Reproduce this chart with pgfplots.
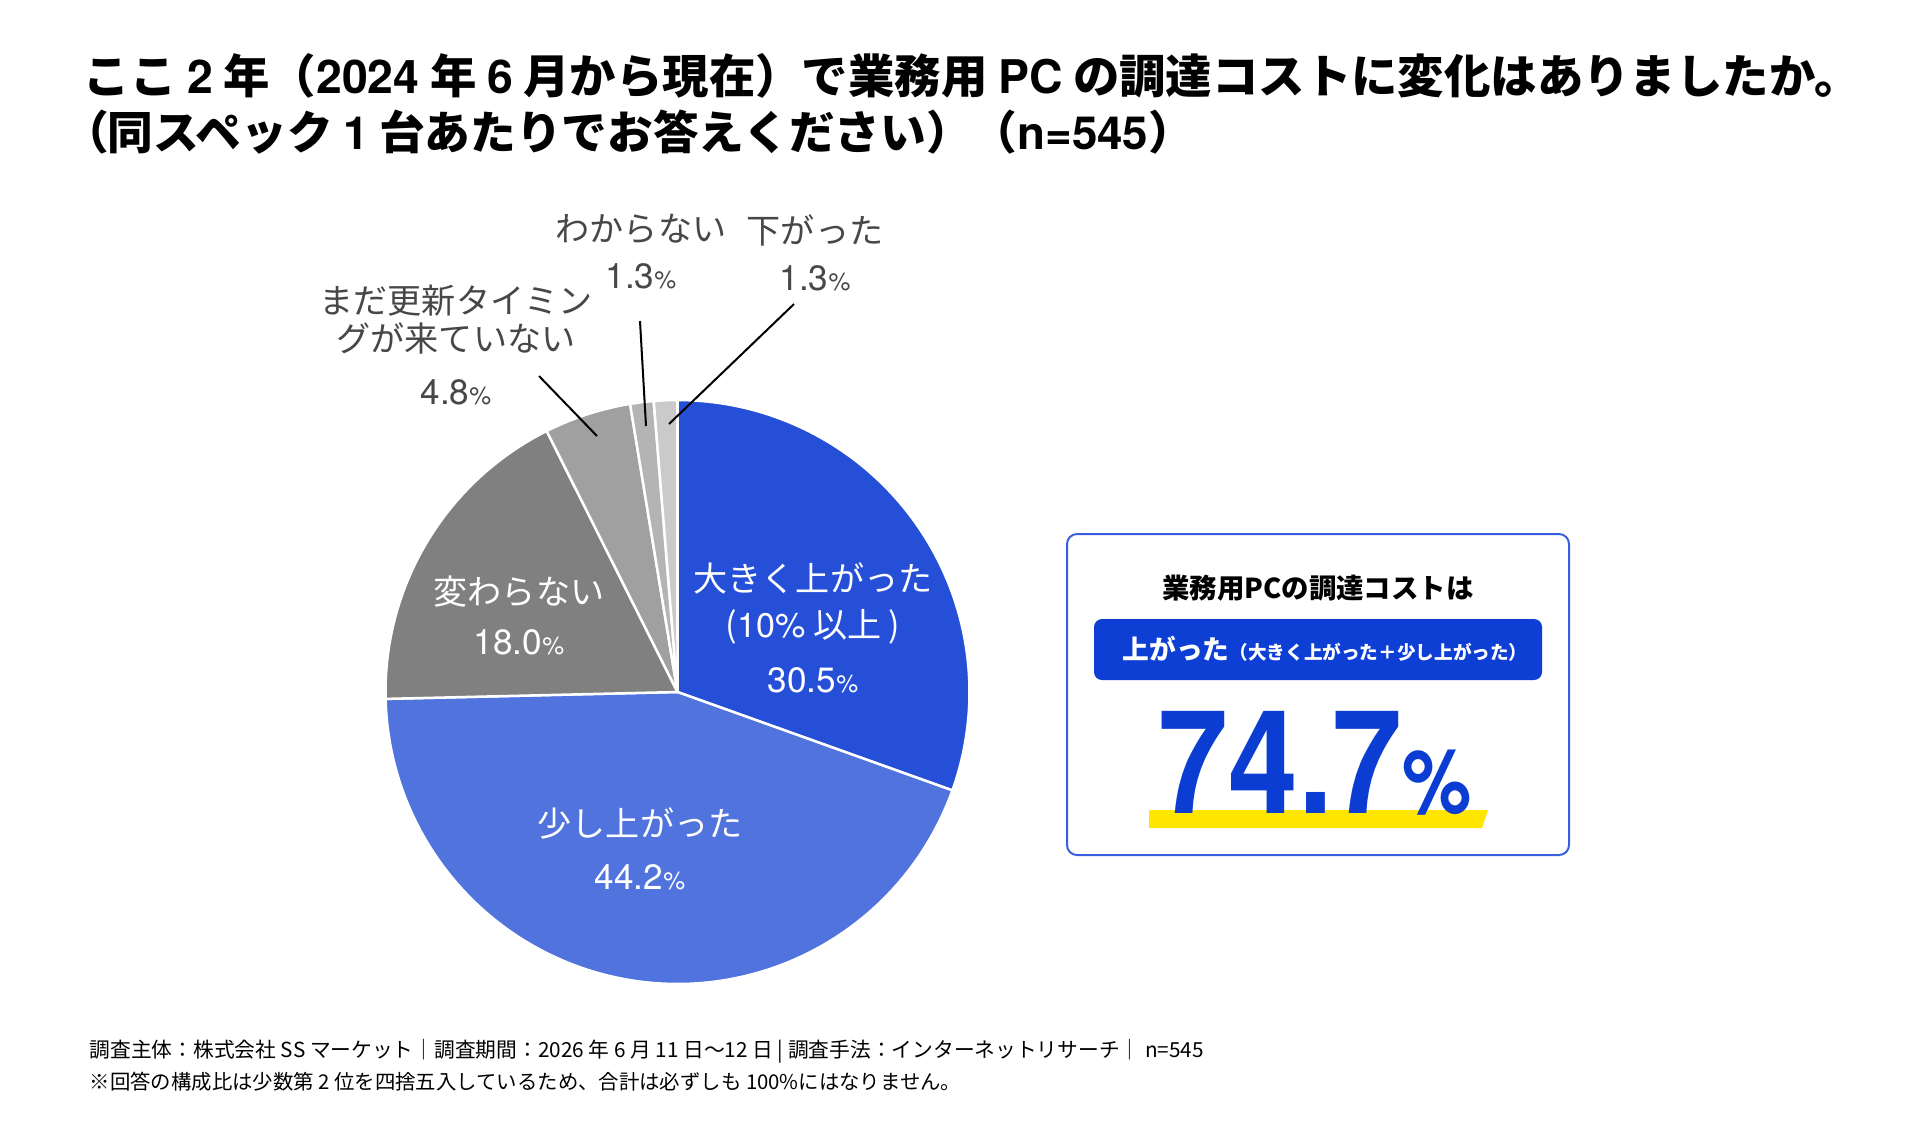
\documentclass[border=0pt]{standalone}
\usepackage{pgfplots}
\pgfplotsset{compat=1.18}
\usepackage{graphicx}
\usepackage{fontspec}
\setmainfont{Noto Sans CJK JP}
\newfontfamily\numfont{TeX Gyre Heros}

\definecolor{upBig}{HTML}{264FD7}
\definecolor{upSmall}{HTML}{5073DD}
\definecolor{same}{HTML}{808080}
\definecolor{notyet}{HTML}{A0A0A0}
\definecolor{unknown}{HTML}{B4B4B4}
\definecolor{down}{HTML}{CACACA}
\definecolor{labgray}{HTML}{474747}
\definecolor{boxline}{HTML}{3A5FDE}
\definecolor{barblue}{HTML}{0D3FD5}
\definecolor{bignum}{HTML}{0B3DD3}
\definecolor{marker}{HTML}{FFE600}

% pie slices: value in percent, clockwise from 12 o'clock
\def\pietotal{100.1}
\gdef\slicestart{0}
\newcommand\slice[2]{%
  \pgfmathsetmacro\sliceend{\slicestart+#1}%
  \edef\doslice{\noexpand\addplot[draw=white, line width=0.25mm, line join=round,
     fill=#2, domain=\slicestart*360/\pietotal:\sliceend*360/\pietotal, samples=90]
     ({sin(x)},{cos(x)}) -- (axis cs:0,0) -- cycle;}%
  \doslice
  \xdef\slicestart{\sliceend}}

\newcommand\lab{\fontsize{9.7}{13}\selectfont}
% value labels: number with a smaller percent sign
\newcommand\val[1]{{\numfont\fontsize{10}{12}\selectfont #1{\fontsize{7}{8}\selectfont\%}}}
\newcommand\tn[1]{{\numfont\bfseries #1}}
\newcommand\popen{{\addfontfeature{RawFeature=+palt}（}}

\begin{document}
\begin{tikzpicture}
\begin{scope}[x=0.1mm,y=-0.1mm]
\fill[white] (0,0) rectangle (1921,1138);
\useasboundingbox (0,0) rectangle (1921,1138);
\end{scope}

% pie
\begin{axis}[hide axis, scale only axis, width=58.4mm, height=58.4mm,
  xmin=-1, xmax=1, ymin=-1, ymax=1, at={(67.75mm,-69.2mm)}, anchor=center, clip=false]
\slice{30.5}{upBig}
\slice{44.2}{upSmall}
\slice{18.0}{same}
\slice{4.8}{notyet}
\slice{1.3}{unknown}
\slice{1.3}{down}
\end{axis}

\begin{scope}[x=0.1mm,y=-0.1mm]
% title
\node[anchor=west, inner sep=0pt, font=\fontsize{13.2}{15}\selectfont\bfseries] at (83,76)
  {ここ \tn{2} 年（\tn{2024} 年 \tn{6} 月から現在）で業務用 \tn{PC} の調達コストに変化はありましたか。};
\node[anchor=west, inner sep=0pt, font=\fontsize{13}{15}\selectfont\bfseries] at (84,132)
  {\popen 同スペック \tn{1} 台あたりでお答えください）（\tn{n=545}）};

% labels inside the pie
\begin{scope}[every node/.style={text=white, inner sep=0pt, font=\lab}]
\node at (813,578) {大きく上がった};
\node at (813,627) {({\numfont 10\%} 以上 )};
\node at (813,680) {\val{30.5}};
\node at (519,592) {変わらない};
\node at (519,642) {\val{18.0}};
\node at (640,823) {少し上がった};
\node at (640,877) {\val{44.2}};
\end{scope}

% labels outside the pie
\begin{scope}[every node/.style={text=labgray, inner sep=0pt, font=\lab}]
\node at (456,301) {まだ更新タイミン};
\node at (456,338) {グが来ていない};
\node at (456,392) {\val{4.8}};
\node at (641,229) {わからない};
\node at (641,276) {\val{1.3}};
\node at (815,230) {下がった};
\node at (815,278) {\val{1.3}};
\end{scope}
\draw[black, line width=0.2mm] (539,376) -- (597,436);
\draw[black, line width=0.2mm] (640,321) -- (646,426);
\draw[black, line width=0.2mm] (794,304) -- (669,424);

% summary box
\draw[boxline, line width=0.2mm, rounded corners=1mm] (1067,534) rectangle (1569,855);
\node[font=\fontsize{7.8}{9}\selectfont\bfseries] at (1318,588) {業務用PCの調達コストは};
\fill[barblue, rounded corners=0.8mm] (1094,619) rectangle (1542,680);
\node[anchor=west, inner sep=0pt, text=white] at (1122,649)
  {{\fontsize{7.6}{9}\selectfont\bfseries 上がった}{\fontsize{5.3}{7}\selectfont\bfseries（大きく上がった＋少し上がった）}};
\fill[marker] (1149,810) -- (1488,810) -- (1482,828) -- (1149,828) -- cycle;
\node[anchor=base west, inner sep=0pt, text=bignum] at (1158,813)
  {\scalebox{0.87}[1]{\numfont\bfseries\fontsize{41}{45}\selectfont 74.7\fontsize{25.5}{28}\selectfont\%}};

% footer
\node[anchor=west, inner sep=0pt, font=\fontsize{5.9}{7}\selectfont] at (89,1051)
  {調査主体：株式会社 SS マーケット｜調査期間：2026 年 6 月 11 日〜12 日 | 調査手法：インターネットリサーチ｜ n=545};
\node[anchor=west, inner sep=0pt, font=\fontsize{5.8}{7}\selectfont] at (89,1082)
  {※回答の構成比は少数第 2 位を四捨五入しているため、合計は必ずしも 100\%にはなりません。};
\end{scope}
\end{tikzpicture}
\end{document}
